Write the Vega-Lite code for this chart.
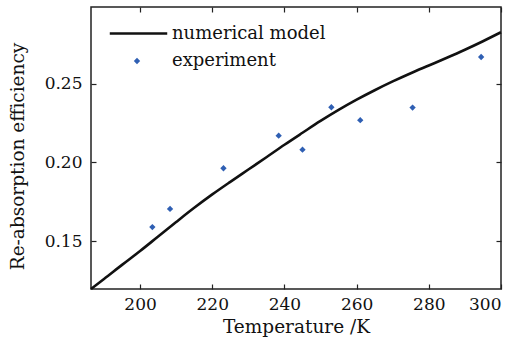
{
  "$schema": "https://vega.github.io/schema/vega-lite/v6.json",
  "width": 410,
  "height": 282,
  "autosize": {"type": "none"},
  "padding": {"left": 91, "top": 7, "right": 18, "bottom": 52},
  "background": "white",
  "config": {
    "view": {"stroke": "#222", "strokeWidth": 1.5},
    "font": "DejaVu Serif",
    "axis": {
      "labelFont": "DejaVu Serif",
      "titleFont": "DejaVu Serif",
      "labelFontSize": 17,
      "titleFontSize": 18.5,
      "titleFontWeight": "normal",
      "labelColor": "#111",
      "titleColor": "#111",
      "grid": false,
      "domain": false,
      "tickColor": "#222",
      "tickSize": -5,
      "tickWidth": 1.2
    },
    "legend": {
      "labelFont": "DejaVu Serif",
      "labelFontSize": 18,
      "labelColor": "#111",
      "padding": 0
    }
  },
  "datasets": {
    "model": [
      {"T": 186.4, "E": 0.1197},
      {"T": 190, "E": 0.126},
      {"T": 195, "E": 0.135},
      {"T": 200, "E": 0.1438},
      {"T": 205, "E": 0.153},
      {"T": 210, "E": 0.1622},
      {"T": 215, "E": 0.1712},
      {"T": 220, "E": 0.1797},
      {"T": 225, "E": 0.1877},
      {"T": 230, "E": 0.1955},
      {"T": 235, "E": 0.2033},
      {"T": 240, "E": 0.2112},
      {"T": 245, "E": 0.2188},
      {"T": 250, "E": 0.2263},
      {"T": 255, "E": 0.2333},
      {"T": 260, "E": 0.2398},
      {"T": 265, "E": 0.2458},
      {"T": 270, "E": 0.2514},
      {"T": 275, "E": 0.2566},
      {"T": 280, "E": 0.2615},
      {"T": 285, "E": 0.2664},
      {"T": 290, "E": 0.2715},
      {"T": 295, "E": 0.2769},
      {"T": 300, "E": 0.2826}
    ],
    "exp": [
      {"T": 203.4, "E": 0.159},
      {"T": 208.3, "E": 0.1705},
      {"T": 223.1, "E": 0.1963},
      {"T": 238.4, "E": 0.217},
      {"T": 245.0, "E": 0.2081},
      {"T": 253.0, "E": 0.235},
      {"T": 261.0, "E": 0.2268},
      {"T": 275.5, "E": 0.2348},
      {"T": 294.5, "E": 0.2669}
    ]
  },
  "layer": [
    {
      "data": {"name": "model"},
      "mark": {"type": "line", "strokeWidth": 2.6, "interpolate": "monotone"},
      "encoding": {
        "x": {
          "field": "T", "type": "quantitative",
          "scale": {"domain": [186.4, 300], "nice": false, "zero": false},
          "axis": {"orient": "bottom", "values": [200, 220, 240, 260, 280, 300], "format": "d", "title": "Temperature /K", "labelPadding": 12, "titlePadding": 5}
        },
        "y": {
          "field": "E", "type": "quantitative",
          "scale": {"domain": [0.1197, 0.2986], "nice": false, "zero": false},
          "axis": {"orient": "left", "values": [0.15, 0.2, 0.25], "format": ".2f", "title": "Re-absorption efficiency", "labelPadding": 14, "titlePadding": 17, "titleY": 149}
        },
        "stroke": {
          "datum": "numerical model", "type": "nominal",
          "scale": {"range": ["#111"]},
          "legend": {"title": null, "orient": "none", "legendX": 17, "legendY": -4, "symbolSize": 3300, "symbolStrokeWidth": 2.6, "labelOffset": 3}
        }
      }
    },
    {
      "data": {"name": "exp"},
      "mark": {"type": "point", "shape": "diamond", "filled": true, "size": 40, "opacity": 1},
      "encoding": {
        "x": {
          "field": "T", "type": "quantitative",
          "scale": {"domain": [186.4, 300], "nice": false, "zero": false},
          "axis": {"orient": "top", "values": [200, 220, 240, 260, 280, 300], "labels": false, "title": null}
        },
        "y": {
          "field": "E", "type": "quantitative",
          "scale": {"domain": [0.1197, 0.2986], "nice": false, "zero": false},
          "axis": {"orient": "right", "values": [0.15, 0.2, 0.25], "labels": false, "title": null}
        },
        "fill": {
          "datum": "experiment", "type": "nominal",
          "scale": {"range": ["#2f5fb3"]},
          "legend": {"title": null, "orient": "none", "legendX": 37, "legendY": 45, "symbolSize": 40, "symbolType": "diamond", "labelOffset": 26}
        }
      }
    }
  ],
  "resolve": {"axis": {"x": "independent", "y": "independent"}}
}
